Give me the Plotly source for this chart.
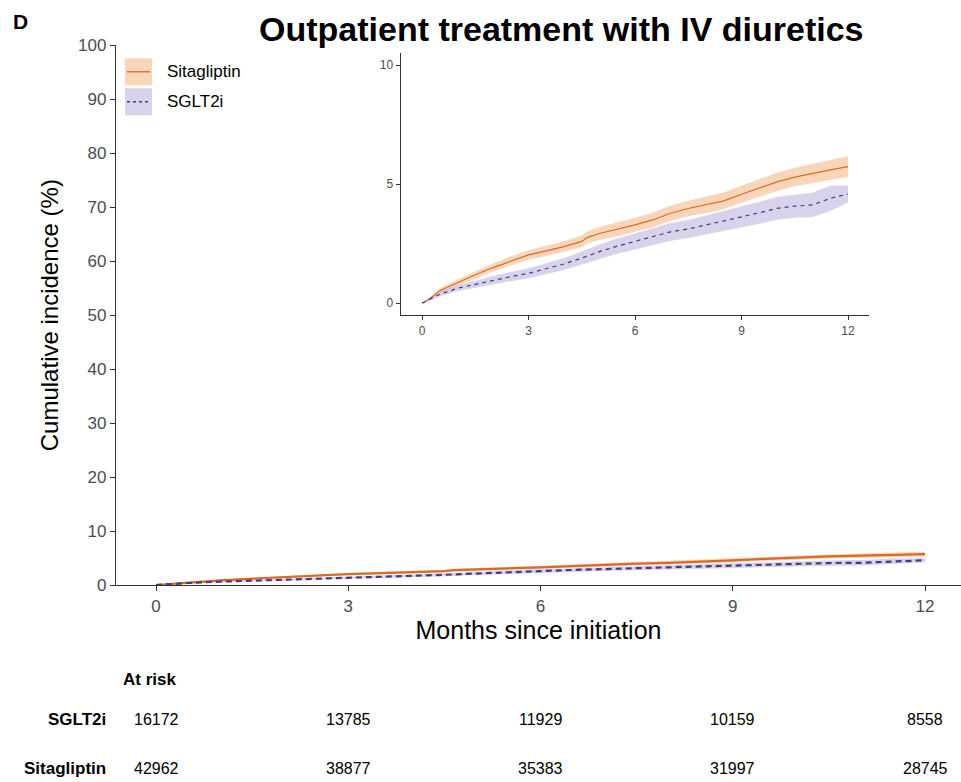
import plotly.graph_objects as go

# ---------------- data ----------------
months = [0, 0.25, 0.5, 1, 1.5, 2, 2.5, 3, 3.5, 4, 4.5, 4.65, 5, 5.5, 6, 6.5, 7, 7.5, 8,
          8.5, 9, 9.5, 10, 10.5, 11, 11.5, 12]
sita = [0, 0.22, 0.53, 0.87, 1.2, 1.5, 1.78, 2.03, 2.2, 2.38, 2.6, 2.76, 2.93, 3.1, 3.29,
        3.5, 3.78, 3.98, 4.13, 4.3, 4.58, 4.85, 5.1, 5.3, 5.46, 5.6, 5.74]
sita_lo = [0, 0.16, 0.43, 0.74, 1.05, 1.33, 1.59, 1.83, 1.98, 2.15, 2.35, 2.51, 2.66, 2.82,
           2.99, 3.19, 3.46, 3.65, 3.79, 3.95, 4.22, 4.48, 4.72, 4.91, 5.06, 5.18, 5.3]
sita_hi = [0, 0.28, 0.63, 1.0, 1.35, 1.67, 1.97, 2.23, 2.42, 2.61, 2.85, 3.01, 3.2, 3.38,
           3.59, 3.81, 4.1, 4.31, 4.47, 4.65, 4.94, 5.22, 5.48, 5.69, 5.86, 6.02, 6.18]

sglt = [0, 0.2, 0.38, 0.63, 0.8, 0.98, 1.12, 1.26, 1.45, 1.65, 1.9, 1.98, 2.17, 2.4, 2.59,
        2.8, 3.0, 3.12, 3.29, 3.45, 3.61, 3.8, 3.99, 4.08, 4.13, 4.41, 4.59]
sglt_lo = [0, 0.13, 0.28, 0.5, 0.65, 0.81, 0.93, 1.05, 1.22, 1.4, 1.63, 1.7, 1.87, 2.08,
           2.26, 2.45, 2.63, 2.74, 2.89, 3.03, 3.17, 3.34, 3.51, 3.59, 3.62, 3.88, 4.23]
sglt_hi = [0, 0.27, 0.48, 0.76, 0.95, 1.15, 1.31, 1.47, 1.68, 1.9, 2.17, 2.26, 2.47, 2.72,
           2.92, 3.15, 3.37, 3.5, 3.69, 3.87, 4.05, 4.26, 4.47, 4.57, 4.64, 4.94, 4.95]

risk_times = [0, 3, 6, 9, 12]
risk_sglt = [16172, 13785, 11929, 10159, 8558]
risk_sita = [42962, 38877, 35383, 31997, 28745]

x_ticks = [0, 3, 6, 9, 12]
main_y_ticks = [0, 10, 20, 30, 40, 50, 60, 70, 80, 90, 100]
inset_y_ticks = [0, 5, 10]

# ---------------- styles ----------------
SITA_LINE = "#DD6A22"
SITA_BAND = "rgba(244,178,130,0.55)"
SGLT_LINE = "#463C85"
SGLT_BAND = "rgba(180,165,215,0.5)"
AXIS = "#333333"
TICKC = "#4D4D4D"
FONT = "Liberation Sans, Arial, sans-serif"

W, H = 961, 782
# observed vertical placement of the rendered figure
TOP_OFF, EFF_H = 8.7, 763.3


def yp(px):
    return 1 - (px - TOP_OFF) / EFF_H


fig = go.Figure()


def add_group(xa, ya, lw, dash):
    for lo, hi, band in [(sita_lo, sita_hi, SITA_BAND), (sglt_lo, sglt_hi, SGLT_BAND)]:
        fig.add_trace(go.Scatter(x=months, y=lo, mode="lines", line=dict(width=0),
                                 xaxis=xa, yaxis=ya, showlegend=False, hoverinfo="skip"))
        fig.add_trace(go.Scatter(x=months, y=hi, mode="lines", line=dict(width=0),
                                 fill="tonexty", fillcolor=band,
                                 xaxis=xa, yaxis=ya, showlegend=False, hoverinfo="skip"))
    fig.add_trace(go.Scatter(x=months, y=sita, mode="lines", name="Sitagliptin",
                             line=dict(color=SITA_LINE, width=lw),
                             xaxis=xa, yaxis=ya, showlegend=False))
    fig.add_trace(go.Scatter(x=months, y=sglt, mode="lines", name="SGLT2i",
                             line=dict(color=SGLT_LINE, width=lw, dash=dash),
                             xaxis=xa, yaxis=ya, showlegend=False))


add_group("x", "y", 2.2, "6px,4px")
add_group("x2", "y2", 1.2, "4px,4px")

# main axes
x0px, x12px = 156, 925
ppu = (x12px - x0px) / 12
main_left = 116
main_xr = [(main_left - x0px) / ppu, (W - x0px) / ppu]
fig.update_layout(
    xaxis=dict(domain=[main_left / W, 1], range=main_xr, tickvals=x_ticks,
               showgrid=False, zeroline=False, showline=True, linecolor=AXIS, linewidth=1.3,
               ticks="outside", ticklen=5, tickcolor=AXIS, tickwidth=1.2,
               tickfont=dict(size=17, color=TICKC, family=FONT),
               title=dict(text="Months since initiation", font=dict(size=25, color="black", family=FONT),
                          standoff=4)),
    yaxis=dict(domain=[yp(585), yp(45)], range=[0, 100], tickvals=main_y_ticks,
               showgrid=False, zeroline=False, showline=True, linecolor=AXIS, linewidth=1.3,
               ticks="outside", ticklen=5, tickcolor=AXIS, tickwidth=1.2,
               tickfont=dict(size=17, color=TICKC, family=FONT),
               title=dict(text="Cumulative incidence (%)", font=dict(size=24, color="black", family=FONT),
                          standoff=12)),
    xaxis2=dict(domain=[400.7 / W, 869.3 / W], range=[-0.6, 12.6], tickvals=x_ticks,
                anchor="y2", showgrid=False, zeroline=False, showline=True, linecolor=AXIS,
                linewidth=1.2, ticks="outside", ticklen=4, tickcolor=AXIS,
                tickfont=dict(size=12, color=TICKC, family=FONT)),
    yaxis2=dict(domain=[yp(315), yp(53)], range=[-0.5, 10.5], tickvals=inset_y_ticks,
                anchor="x2", showgrid=False, zeroline=False, showline=True, linecolor=AXIS,
                linewidth=1.2, ticks="outside", ticklen=4, tickcolor=AXIS,
                tickfont=dict(size=12, color=TICKC, family=FONT)),
    width=W, height=H, margin=dict(l=0, r=0, t=0, b=0),
    paper_bgcolor="white", plot_bgcolor="white", showlegend=False,
    font=dict(family=FONT),
)

ann = []
# title and panel label
ann.append(dict(text="<b>Outpatient treatment with IV diuretics</b>", x=561 / W, y=yp(29),
                xref="paper", yref="paper", showarrow=False, xanchor="center", yanchor="middle",
                font=dict(size=34, color="black", family=FONT)))
ann.append(dict(text="<b>D</b>", x=11 / W, y=yp(21), xref="paper", yref="paper",
                showarrow=False, xanchor="left", yanchor="middle",
                font=dict(size=21, color="black", family=FONT)))

# legend (manual)
shapes = []
legend_items = [("Sitagliptin", SITA_LINE, SITA_BAND, "solid", 58, 85),
                ("SGLT2i", SGLT_LINE, SGLT_BAND, "3px,3px", 88, 115)]
for name, lc, bc, dash, top, bot in legend_items:
    shapes.append(dict(type="rect", xref="paper", yref="paper", x0=125 / W, x1=152 / W,
                       y0=yp(bot), y1=yp(top), fillcolor=bc, line=dict(width=0)))
    mid = (top + bot) / 2
    shapes.append(dict(type="line", xref="paper", yref="paper", x0=127 / W, x1=150 / W,
                       y0=yp(mid), y1=yp(mid), line=dict(color=lc, width=1.3, dash=dash)))
    ann.append(dict(text=name, x=165 / W, y=yp(mid), xref="paper", yref="paper",
                    showarrow=False, xanchor="left", yanchor="middle",
                    font=dict(size=17, color="black", family=FONT)))

# risk table
ann.append(dict(text="<b>At risk</b>", x=121 / W, y=yp(679), xref="paper", yref="paper",
                showarrow=False, xanchor="left", yanchor="middle",
                font=dict(size=17, color="black", family=FONT)))
for label, vals, ypx in [("SGLT2i", risk_sglt, 719), ("Sitagliptin", risk_sita, 768)]:
    ann.append(dict(text=f"<b>{label}</b>", x=108 / W, y=yp(ypx), xref="paper", yref="paper",
                    showarrow=False, xanchor="right", yanchor="middle",
                    font=dict(size=17, color="black", family=FONT)))
    for t, v in zip(risk_times, vals):
        ann.append(dict(text=str(v), x=t, y=yp(ypx), xref="x", yref="paper",
                        showarrow=False, xanchor="center", yanchor="middle",
                        font=dict(size=16, color="black", family=FONT)))

fig.update_layout(annotations=ann, shapes=shapes)
fig.write_html("out.html")
